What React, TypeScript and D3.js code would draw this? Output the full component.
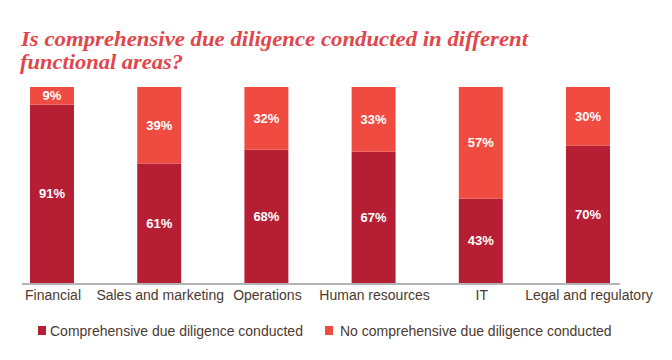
import * as d3 from "d3";

const categories = ["Financial", "Sales and marketing", "Operations", "Human resources", "IT", "Legal and regulatory"];
const conducted = [91, 61, 68, 67, 43, 70];
const notConducted = [9, 39, 32, 33, 57, 30];
const seriesNames = ["Comprehensive due diligence conducted", "No comprehensive due diligence conducted"];
const colors = ["#b61f33", "#ef4b40"];

const W = 672;
const H = 360;
const top = 87;
const base = 283;

export default function App() {
  const x = d3.scaleBand<string>().domain(categories).range([0, 640]).paddingInner(0.59).paddingOuter(0.28);
  const y = d3.scaleLinear().domain([0, 100]).range([base, top]);

  const stacked = categories.map((c, i) => {
    const a = conducted[i];
    const b = notConducted[i];
    return [
      { key: "c", y0: 0, y1: a, v: a, color: colors[0] },
      { key: "n", y0: a, y1: a + b, v: b, color: colors[1] },
    ];
  });

  return (
    <svg width={W} height={H} style={{ position: "fixed", left: 0, top: 0, background: "#fff" }}>
      <g fontFamily="'Liberation Serif', Georgia, serif" fontStyle="italic" fontWeight="bold" fontSize={21} fill="#e0474c">
        <text x={21} y={46} textLength={507} lengthAdjust="spacingAndGlyphs">Is comprehensive due diligence conducted in different</text>
        <text x={20} y={69} textLength={163} lengthAdjust="spacingAndGlyphs">functional areas?</text>
      </g>
      {categories.map((c, i) => (
        <g key={c}>
          {stacked[i].map((s) => (
            <g key={s.key}>
              <rect x={x(c)} y={y(s.y1)} width={x.bandwidth()} height={y(s.y0) - y(s.y1)} fill={s.color} />
              <text
                x={(x(c) ?? 0) + x.bandwidth() / 2}
                y={(y(s.y0) + y(s.y1)) / 2}
                dy="0.35em"
                textAnchor="middle"
                fill="#fff"
                fontFamily="'Liberation Sans', Arial, sans-serif"
                fontWeight="bold"
                fontSize={13}
              >
                {s.v}%
              </text>
            </g>
          ))}
          <text
            x={(x(c) ?? 0) + x.bandwidth() / 2 + 1}
            y={300}
            textAnchor="middle"
            fill="#4a3a30"
            fontFamily="'Liberation Sans', Arial, sans-serif"
            fontSize={14}
          >
            {c}
          </text>
        </g>
      ))}
      <line x1={22} x2={620} y1={base + 1} y2={base + 1} stroke="#b3b3b3" strokeWidth={2} />
      <g fontFamily="'Liberation Sans', Arial, sans-serif" fontSize={14} fill="#4a3a30">
        <rect x={38} y={326} width={8} height={9} fill={colors[0]} />
        <text x={50} y={336}>{seriesNames[0]}</text>
        <rect x={325} y={326} width={8} height={9} fill={colors[1]} />
        <text x={340} y={336}>{seriesNames[1]}</text>
      </g>
    </svg>
  );
}
